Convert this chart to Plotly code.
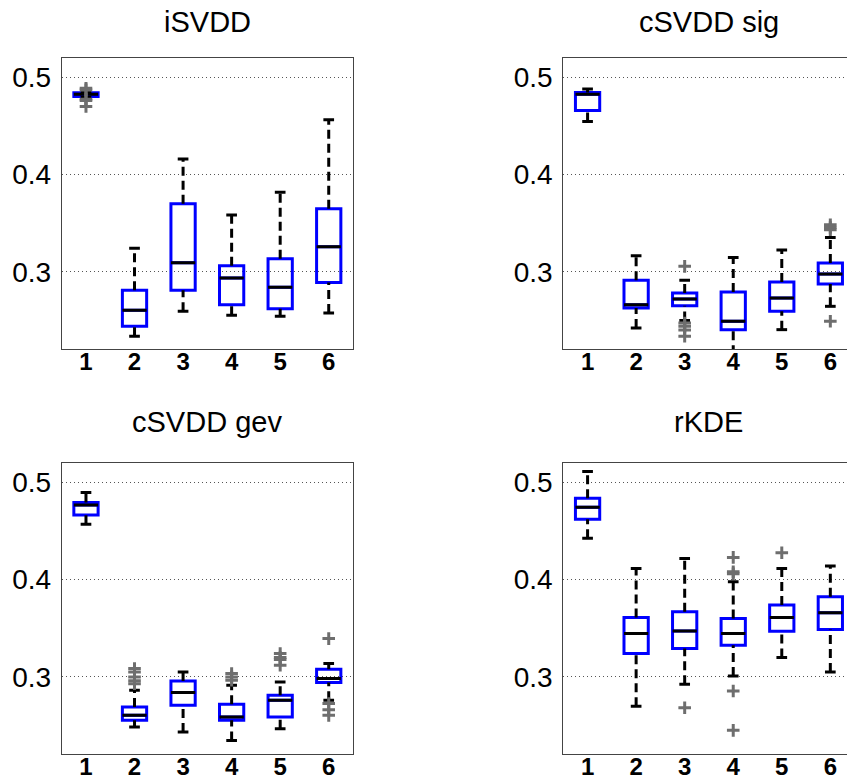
import plotly.graph_objects as go

W, H = 847, 777

groups = [1, 2, 3, 4, 5, 6]
tick_labels = ["1", "2", "3", "4", "5", "6"]
y_ticks = [0.3, 0.4, 0.5]
y_tick_labels = ["0.3", "0.4", "0.5"]
titles = ["iSVDD", "cSVDD sig", "cSVDD gev", "rKDE"]

# iSVDD
isvdd_low = [0.4795, 0.2336, 0.2592, 0.2551, 0.2541, 0.2575]
isvdd_q1 = [0.4801, 0.2438, 0.2808, 0.2661, 0.2620, 0.2890]
isvdd_med = [0.4825, 0.2603, 0.3092, 0.2935, 0.2839, 0.3257]
isvdd_q3 = [0.4840, 0.2808, 0.3699, 0.3062, 0.3134, 0.3647]
isvdd_high = [0.4850, 0.3240, 0.4158, 0.3582, 0.3818, 0.4562]
isvdd_out = [[0.4887, 0.4870, 0.4775, 0.4760, 0.4699], [], [], [], [], []]

# cSVDD sig
sig_low = [0.4545, 0.2421, 0.2497, 0.2150, 0.2404, 0.2644]
sig_q1 = [0.4658, 0.2627, 0.2651, 0.2404, 0.2592, 0.2873]
sig_med = [0.4825, 0.2661, 0.2719, 0.2490, 0.2729, 0.2976]
sig_q3 = [0.4842, 0.2911, 0.2781, 0.2791, 0.2894, 0.3089]
sig_high = [0.4880, 0.3164, 0.2911, 0.3147, 0.3223, 0.3353]
sig_out = [[], [], [0.3055, 0.2473, 0.2440, 0.2400, 0.2336], [], [],
           [0.3483, 0.3455, 0.3432, 0.2490]]

# cSVDD gev
gev_low = [0.4568, 0.2485, 0.2434, 0.2348, 0.2468, 0.2760]
gev_q1 = [0.4664, 0.2554, 0.2708, 0.2554, 0.2588, 0.2942]
gev_med = [0.4767, 0.2605, 0.2839, 0.2588, 0.2760, 0.2983]
gev_q3 = [0.4791, 0.2691, 0.2959, 0.2719, 0.2811, 0.3079]
gev_high = [0.4894, 0.2863, 0.3051, 0.2914, 0.2949, 0.3137]
gev_out = [[], [0.3086, 0.3050, 0.3000, 0.2960, 0.2930], [],
           [0.3034, 0.3000, 0.2966], [0.3240, 0.3200, 0.3180, 0.3120],
           [0.3394, 0.2726, 0.2664, 0.2605]]

# rKDE
rkde_low = [0.4424, 0.2698, 0.2925, 0.3010, 0.3199, 0.3051]
rkde_q1 = [0.4620, 0.3240, 0.3292, 0.3326, 0.3470, 0.3487]
rkde_med = [0.4743, 0.3446, 0.3473, 0.3446, 0.3611, 0.3659]
rkde_q3 = [0.4835, 0.3611, 0.3669, 0.3600, 0.3738, 0.3823]
rkde_high = [0.5110, 0.4115, 0.4218, 0.3978, 0.4115, 0.4139]
rkde_out = [[], [], [0.2684], [0.4228, 0.4080, 0.4060, 0.2856, 0.2451],
            [0.4276], []]

panels = [
    (isvdd_low, isvdd_q1, isvdd_med, isvdd_q3, isvdd_high, isvdd_out),
    (sig_low, sig_q1, sig_med, sig_q3, sig_high, sig_out),
    (gev_low, gev_q1, gev_med, gev_q3, gev_high, gev_out),
    (rkde_low, rkde_q1, rkde_med, rkde_q3, rkde_high, rkde_out),
]

BLUE = "#0000ff"
GREY = "#6e6e6e"
BOX_W = 0.5
CAP_HW = 0.11

px_per_unit = 291.3 / 6.0
left_dom_px = (61.7, 353.0)
right_dom_px = (563.3, 847.0)
top_dom_px = (58.3, 349.0)
bot_dom_px = (463.3, 754.3)


def xd(p):
    return [p[0] / W, p[1] / W]


def yd(p):
    return [1 - p[1] / H, 1 - p[0] / H]


right_xmax = 0.5 + (right_dom_px[1] - right_dom_px[0]) / px_per_unit

layouts = [
    (xd(left_dom_px), yd(top_dom_px), [0.5, 6.5], True),
    (xd(right_dom_px), yd(top_dom_px), [0.5, right_xmax], False),
    (xd(left_dom_px), yd(bot_dom_px), [0.5, 6.5], True),
    (xd(right_dom_px), yd(bot_dom_px), [0.5, right_xmax], False),
]

fig = go.Figure()

for i, (low, q1, med, q3, high, out) in enumerate(panels):
    n = "" if i == 0 else str(i + 1)
    xa, ya = "x" + n, "y" + n

    fig.add_trace(go.Box(
        x=groups, q1=q1, median=med, q3=q3, lowerfence=q1, upperfence=q3,
        width=BOX_W, line=dict(color=BLUE, width=3),
        fillcolor="rgba(0,0,0,0)", xaxis=xa, yaxis=ya, showlegend=False,
        hoverinfo="skip"))

    wx, wy = [], []
    for g, lo, a, b, hi in zip(groups, low, q1, q3, high):
        wx += [g, g, None, g, g, None]
        wy += [b, hi, None, lo, a, None]
    fig.add_trace(go.Scatter(
        x=wx, y=wy, mode="lines", xaxis=xa, yaxis=ya, showlegend=False,
        line=dict(color="black", width=3, dash="9px,5px"), hoverinfo="skip"))

    cx, cy = [], []
    for g, lo, hi in zip(groups, low, high):
        cx += [g - CAP_HW, g + CAP_HW, None, g - CAP_HW, g + CAP_HW, None]
        cy += [hi, hi, None, lo, lo, None]
    fig.add_trace(go.Scatter(
        x=cx, y=cy, mode="lines", xaxis=xa, yaxis=ya, showlegend=False,
        line=dict(color="black", width=3), hoverinfo="skip"))

    mx, my = [], []
    for g, m in zip(groups, med):
        mx += [g - BOX_W / 2, g + BOX_W / 2, None]
        my += [m, m, None]
    fig.add_trace(go.Scatter(
        x=mx, y=my, mode="lines", xaxis=xa, yaxis=ya, showlegend=False,
        line=dict(color="black", width=3), hoverinfo="skip"))

    ox, oy = [], []
    for g, vals in zip(groups, out):
        for v in vals:
            ox.append(g)
            oy.append(v)
    fig.add_trace(go.Scatter(
        x=ox, y=oy, mode="markers", xaxis=xa, yaxis=ya, showlegend=False,
        marker=dict(symbol="cross-thin", size=9,
                    line=dict(color=GREY, width=3)), hoverinfo="skip"))

layout = dict(
    width=W, height=H, margin=dict(l=0, r=0, t=0, b=0),
    paper_bgcolor="white", plot_bgcolor="white",
    font=dict(family="Liberation Sans, Arial, sans-serif", color="black"),
)
annotations = []
for i, (xdom, ydom, xr, has_right) in enumerate(layouts):
    n = "" if i == 0 else str(i + 1)
    layout["xaxis" + n] = dict(
        domain=xdom, range=xr, anchor="y" + n, tickvals=groups,
        ticktext=["<b>" + t + "</b>" for t in tick_labels],
        tickfont=dict(size=24, color="black"), ticks="",
        ticklabelstandoff=-9, showgrid=False, automargin=False,
        zeroline=False, showline=True, linecolor="#444", linewidth=1,
        mirror=True, fixedrange=True)
    layout["yaxis" + n] = dict(
        domain=ydom, range=[0.2205, 0.5195], anchor="x" + n,
        tickvals=y_ticks, ticktext=y_tick_labels,
        tickfont=dict(size=28, color="black"), ticks="",
        ticklabelstandoff=4, automargin=False,
        showgrid=True, gridcolor="#555", griddash="1px,3px", gridwidth=1,
        zeroline=False, showline=True, linecolor="#444", linewidth=1,
        mirror=has_right, fixedrange=True)
    cx_px = (xdom[0] * W) + px_per_unit * 3.0
    ty = 22 if i < 2 else 422
    annotations.append(dict(
        text=titles[i], x=cx_px / W, y=1 - ty / H, xref="paper",
        yref="paper", xanchor="center", yanchor="middle", showarrow=False,
        font=dict(size=29, color="black")))

layout["annotations"] = annotations
fig.update_layout(**layout)
fig.write_html("out.html",
               config={"displayModeBar": False, "staticPlot": True},
               post_script="document.body.style.margin='0';"
                           "document.body.style.overflow='hidden';")
